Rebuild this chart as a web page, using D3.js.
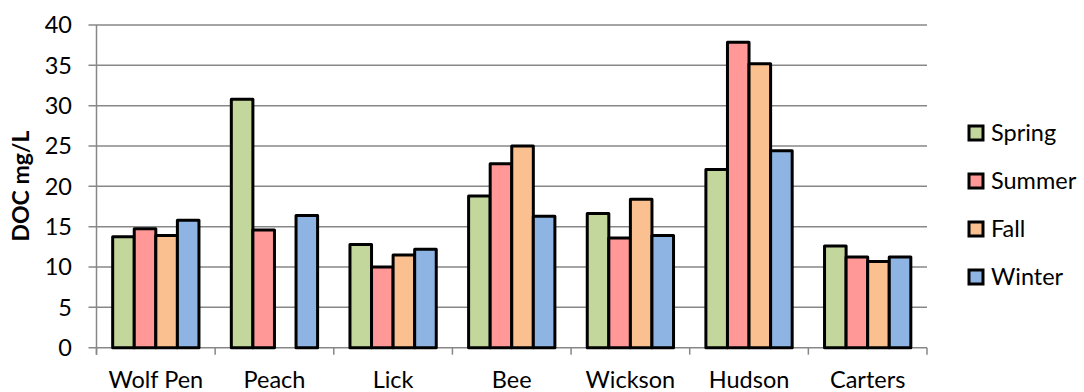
<!DOCTYPE html>
<html><head><meta charset="utf-8">
<script src="https://cdn.jsdelivr.net/npm/d3@7"></script>
<style>body{margin:0;background:#fff}svg{display:block}text{font-family:Lato,"Open Sans",sans-serif;fill:#000}</style>
</head><body><svg id="c" width="1084" height="392"></svg>
<script>
const categories = ["Wolf Pen","Peach","Lick","Bee","Wickson","Hudson","Carters"];
const seriesNames = ["Spring","Summer","Fall","Winter"];
const spring = [13.75, 30.8, 12.8, 18.8, 16.65, 22.1, 12.6];
const summer = [14.75, 14.6, 10.0, 22.8, 13.6, 37.85, 11.25];
const fall   = [13.9, null, 11.5, 25.0, 18.4, 35.2, 10.7];
const winter = [15.8, 16.4, 12.2, 16.3, 13.9, 24.4, 11.25];
const colors = ["#c3d69b","#ff9896","#fac090","#8eb4e3"];
const yTicks = [0,5,10,15,20,25,30,35,40];

const values = [spring, summer, fall, winter];
const svg = d3.select("#c");
const L = 96.5, R = 927, T = 25, B = 347.7;
const FS = 23.5;
const x0 = d3.scaleBand().domain(categories).range([L, R]).padding(0);
const x1 = d3.scaleBand().domain(seriesNames).range([0, x0.bandwidth()]).paddingInner(0).paddingOuter(0.75);
const y = d3.scaleLinear().domain([0, 40]).range([B, T]);

// gridlines
svg.append("g").selectAll("line").data(yTicks).join("line")
  .attr("x1", L - 8).attr("x2", R).attr("y1", d => y(d)).attr("y2", d => y(d))
  .attr("stroke", "#878787").attr("stroke-width", 1.5);
// y axis line
svg.append("line").attr("x1", L).attr("x2", L).attr("y1", T).attr("y2", B + 7)
  .attr("stroke", "#878787").attr("stroke-width", 1.5);
// y labels
svg.append("g").selectAll("text").data(yTicks).join("text")
  .attr("x", 72).attr("y", d => y(d)).attr("dy", "0.35em").attr("text-anchor", "end")
  .attr("font-size", FS).text(d => d);
// x ticks
const xt = categories.map(c => x0(c)).concat([R]);
svg.append("g").selectAll("line").data(xt).join("line")
  .attr("x1", d => d).attr("x2", d => d).attr("y1", B).attr("y2", B + 7)
  .attr("stroke", "#878787").attr("stroke-width", 1.5);

// bars
const rows = [];
categories.forEach((c, i) => seriesNames.forEach((s, j) => {
  if (values[j][i] != null) rows.push({c, s, j, v: values[j][i]});
}));
svg.append("g").selectAll("rect").data(rows).join("rect")
  .attr("x", d => x0(d.c) + x1(d.s)).attr("width", x1.bandwidth())
  .attr("y", d => y(d.v)).attr("height", d => B - y(d.v))
  .attr("fill", d => colors[d.j]).attr("stroke", "#000").attr("stroke-width", 3)
  .attr("stroke-linejoin", "round");

// x labels
svg.append("g").selectAll("text").data(categories).join("text")
  .attr("x", d => x0(d) + x0.bandwidth() / 2).attr("y", 388).attr("text-anchor", "middle")
  .attr("font-size", FS).text(d => d);

// y title
svg.append("text").attr("transform", "translate(29,186) rotate(-90)")
  .attr("text-anchor", "middle").attr("font-size", 23).attr("font-weight", "bold").text("DOC mg/L");

// legend
const lg = svg.append("g").selectAll("g").data(seriesNames).join("g")
  .attr("transform", (d, i) => `translate(969,${133 + i * 48})`);
lg.append("rect").attr("x", 0).attr("y", -7).attr("width", 14).attr("height", 14)
  .attr("fill", (d, i) => colors[i]).attr("stroke", "#000").attr("stroke-width", 3);
lg.append("text").attr("x", 22).attr("y", 0).attr("dy", "0.35em").attr("font-size", FS).text(d => d);
</script></body></html>
